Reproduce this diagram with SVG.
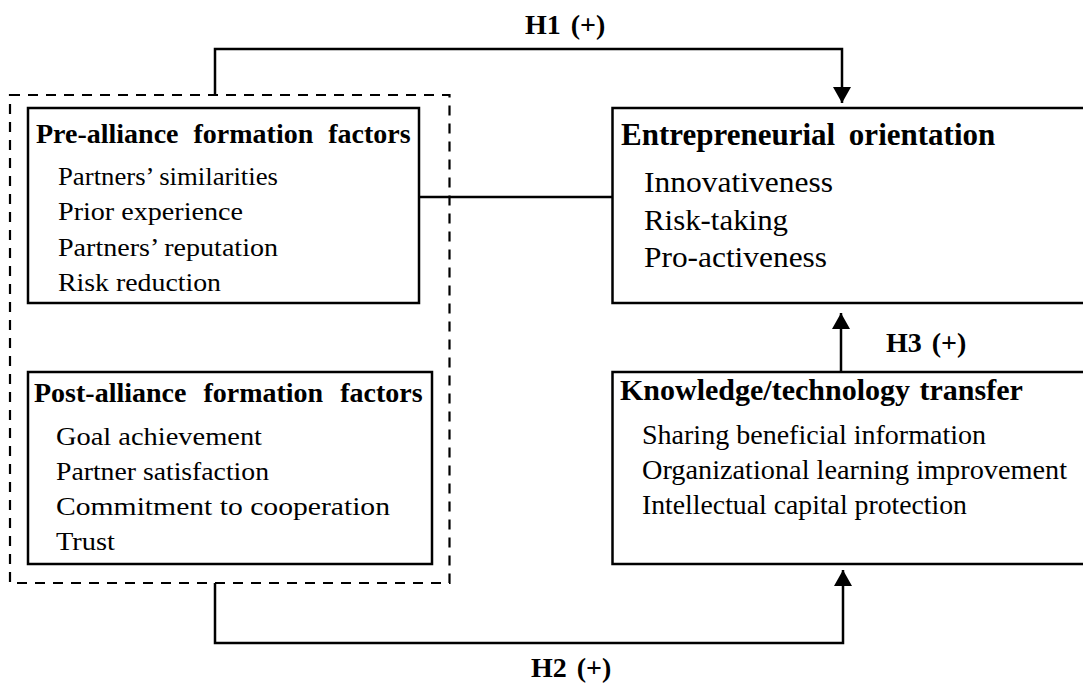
<svg xmlns="http://www.w3.org/2000/svg" width="1083" height="686" viewBox="0 0 1083 686">
  <style>
    .box { fill: #fff; stroke: #000; stroke-width: 2.5; }
    .group { fill: none; stroke: #000; stroke-width: 2.2; stroke-dasharray: 10 8; }
    .conn { fill: none; stroke: #000; stroke-width: 2.5; }
    .title { font-family: 'Liberation Serif', serif; font-size: 28px; font-weight: bold; fill: #000; }
    .title-eo { font-family: 'Liberation Serif', serif; font-size: 31px; font-weight: bold; fill: #000; word-spacing: 6px; }
    .title-kt { font-family: 'Liberation Serif', serif; font-size: 30px; font-weight: bold; fill: #000; word-spacing: 2px; }
    .item { font-family: 'Liberation Serif', serif; font-size: 26px; fill: #000; }
    .item-lg { font-family: 'Liberation Serif', serif; font-size: 30px; fill: #000; }
    .item-md { font-family: 'Liberation Serif', serif; font-size: 27.5px; fill: #000; }
    .hyp { font-family: 'Liberation Serif', serif; font-size: 28px; font-weight: bold; fill: #000; word-spacing: 3px; }
  </style>
  <defs>
    <marker id="arrow" viewBox="0 0 16 18" refX="16" refY="9" markerWidth="16" markerHeight="18" markerUnits="userSpaceOnUse" orient="auto">
      <path d="M0,0 L16,9 L0,18 Z" fill="#000"/>
    </marker>
  </defs>
  <rect width="1083" height="686" fill="#fff"/>

  <g id="antecedents-group">
    <rect class="group" x="10" y="95" width="439.5" height="488"/>
  </g>

  <g id="connectors">
    <polyline class="conn" points="215,95 215,49 842,49 842,103" marker-end="url(#arrow)"/>
    <line class="conn" x1="419" y1="197" x2="612.5" y2="197"/>
    <line class="conn" x1="841" y1="372" x2="841" y2="313" marker-end="url(#arrow)"/>
    <polyline class="conn" points="215,583 215,643 843,643 843,570" marker-end="url(#arrow)"/>
  </g>

  <g id="pre-alliance" font-family="Liberation Serif">
    <rect class="box" x="28" y="108" width="391" height="195"/>
    <text class="title" x="36" y="143" word-spacing="8">Pre-alliance formation factors</text>
    <text class="item" x="58" y="185" textLength="220" lengthAdjust="spacingAndGlyphs">Partners’ similarities</text>
    <text class="item" x="58" y="220" textLength="185" lengthAdjust="spacingAndGlyphs">Prior experience</text>
    <text class="item" x="58" y="256" textLength="220" lengthAdjust="spacingAndGlyphs">Partners’ reputation</text>
    <text class="item" x="58" y="291" textLength="163" lengthAdjust="spacingAndGlyphs">Risk reduction</text>
  </g>

  <g id="post-alliance" font-family="Liberation Serif">
    <rect class="box" x="28" y="372" width="404" height="192"/>
    <text class="title" x="34" y="402" word-spacing="10">Post-alliance formation factors</text>
    <text class="item" x="56" y="445" textLength="206" lengthAdjust="spacingAndGlyphs">Goal achievement</text>
    <text class="item" x="56" y="480" textLength="213" lengthAdjust="spacingAndGlyphs">Partner satisfaction</text>
    <text class="item" x="56" y="515" textLength="334" lengthAdjust="spacingAndGlyphs">Commitment to cooperation</text>
    <text class="item" x="56" y="550" textLength="59" lengthAdjust="spacingAndGlyphs">Trust</text>
  </g>

  <g id="entrepreneurial-orientation" font-family="Liberation Serif">
    <rect class="box" x="612.5" y="108" width="480" height="195"/>
    <text class="title-eo" x="621" y="145">Entrepreneurial orientation</text>
    <text class="item-lg" x="644" y="192" textLength="189" lengthAdjust="spacingAndGlyphs">Innovativeness</text>
    <text class="item-lg" x="644" y="230" textLength="144" lengthAdjust="spacingAndGlyphs">Risk-taking</text>
    <text class="item-lg" x="644" y="267" textLength="183" lengthAdjust="spacingAndGlyphs">Pro-activeness</text>
  </g>

  <g id="knowledge-transfer" font-family="Liberation Serif">
    <rect class="box" x="612.5" y="372" width="480" height="192"/>
    <text class="title-kt" x="620" y="400">Knowledge/technology transfer</text>
    <text class="item-md" x="642" y="444" textLength="344" lengthAdjust="spacingAndGlyphs">Sharing beneficial information</text>
    <text class="item-md" x="642" y="479" textLength="425" lengthAdjust="spacingAndGlyphs">Organizational learning improvement</text>
    <text class="item-md" x="642" y="514" textLength="325" lengthAdjust="spacingAndGlyphs">Intellectual capital protection</text>
  </g>

  <g id="labels" font-family="Liberation Serif">
    <text class="hyp" x="525" y="34">H1 (+)</text>
    <text class="hyp" x="886" y="352">H3 (+)</text>
    <text class="hyp" x="531" y="677">H2 (+)</text>
  </g>
</svg>
